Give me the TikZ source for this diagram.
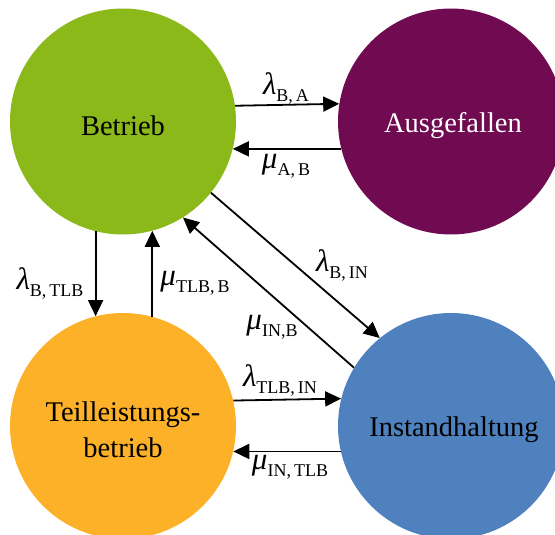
\documentclass[tikz,border=0pt]{standalone}
\usepackage{fontspec}
\setmainfont{LiberationSerif}[Extension=.ttf,UprightFont=*-Regular,ItalicFont=*-Italic,BoldFont=*-Bold,BoldItalicFont=*-BoldItalic]
\usetikzlibrary{arrows.meta}

\definecolor{stgreen}{RGB}{139,185,26}
\definecolor{stpurple}{RGB}{112,10,81}
\definecolor{storange}{RGB}{253,177,40}
\definecolor{stblue}{RGB}{79,129,191}

% transition rate: Greek letter with a roman subscript
\newcommand\rate[2]{\textit{#1}\raisebox{-7pt}{\fontsize{18}{18}\selectfont #2}}

\begin{document}
\begin{tikzpicture}[x=1pt,y=-1pt,
  state/.style={circle,minimum size=226pt,inner sep=0pt},
  statename/.style={align=center,inner sep=0pt,font=\fontsize{28.5}{36}\selectfont},
  trans/.style={line width=1.8pt,-{Triangle[length=16pt,width=15pt]}},
  ratelabel/.style={inner sep=0pt,font=\fontsize{31}{32}\selectfont}]
\useasboundingbox (0,0) rectangle (555,535);
\clip (0,0) rectangle (555,535);

% states
\node[state,fill=stgreen]  (B) at (123,121.5) {};
\node[state,fill=stpurple] (A) at (451,121.5) {};
\node[state,fill=storange] (T) at (123,426) {};
\node[state,fill=stblue]   (I) at (451,426) {};

\node[statename] (Bt) at ([yshift=-4pt]B.center) {Betrieb};
\node[statename,text=white] (At) at ([yshift=-4pt,xshift=2pt]A.center) {Ausgefallen};
\node[statename] (Tt) at ([yshift=-4pt]T.center) {Teilleistungs-\\betrieb};
\node[statename] (It) at ([yshift=-4pt,xshift=3pt]I.center) {Instandhaltung};

% transitions
\draw[trans] (B.8.65)   -- (A.171.35);
\draw[trans] (A.194.7)  -- (B.-14.7);
\draw[trans] (B.-104.9) -- (T.104.9);
\draw[trans] (T.75.3)   -- (B.-75.3);
\draw[trans] (T.13.3)   -- (I.166.7);
\draw[trans] (I.193.1)  -- (T.-13.1);
\draw[trans] (B.-39.4)  -- (I.129.6);
\draw[trans] (I.149.2)  -- (B.-58.2);

% rates
\node[ratelabel] (lBA)   at (286,88)  {\rate{λ}{B,\,A}};
\node[ratelabel] (mAB)   at (286,166) {\rate{μ}{A,\,B}};
\node[ratelabel] (lBT)   at (50,283)  {\rate{λ}{B,\,TLB}};
\node[ratelabel] (mTB)   at (195,283) {\rate{μ}{TLB,\,B}};
\node[ratelabel] (lBI)   at (342,265) {\rate{λ}{B,\,IN}};
\node[ratelabel] (mIB)   at (272,327) {\rate{μ}{IN,B}};
\node[ratelabel] (lTI)   at (280,380) {\rate{λ}{TLB,\,IN}};
\node[ratelabel] (mIT)   at (290,467) {\rate{μ}{IN,\,TLB}};
\end{tikzpicture}
\end{document}
